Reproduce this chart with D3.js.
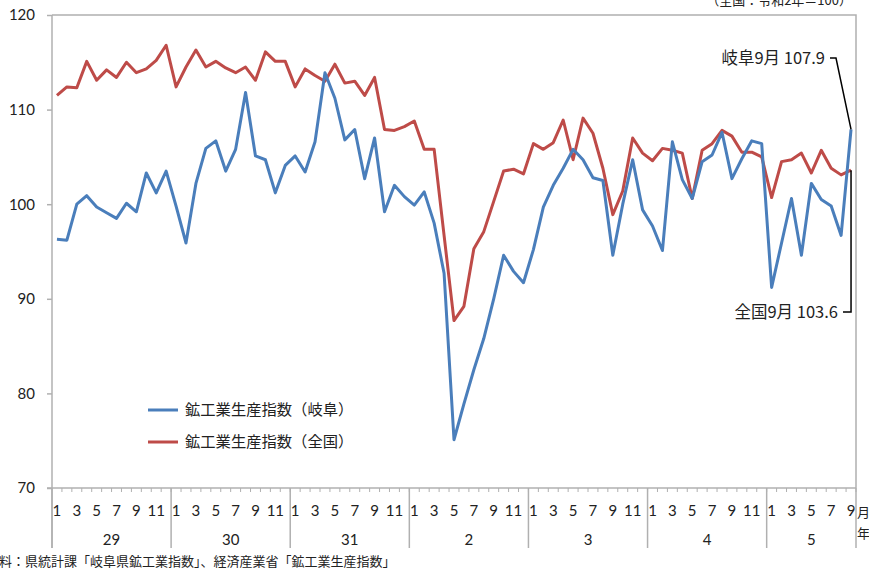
<!DOCTYPE html>
<html>
<head>
<meta charset="utf-8">
<script src="https://d3js.org/d3.v7.min.js"></script>
<style>
body { margin: 0; background: #fff; }
svg { display: block; }
text { font-family: Lato, "Noto Sans CJK JP", sans-serif; fill: #222; }
.jp { font-family: "Noto Sans CJK JP", sans-serif; }
</style>
</head>
<body>
<svg width="869" height="568"></svg>
<script>
// year groups on the category axis (Heisei 29-31, Reiwa 2-5)
var years = ["29", "30", "31", "2", "3", "4", "5"];
var monthsPerYear = [12, 12, 12, 12, 12, 12, 9];
var monthLabels = ["1", "", "3", "", "5", "", "7", "", "9", "", "11", ""];

// 鉱工業生産指数（岐阜）
var gifu = [
  96.3, 96.2, 100.0, 100.9, 99.7, 99.1, 98.5, 100.1, 99.2, 103.3, 101.2, 103.5,
  99.8, 95.9, 102.2, 105.9, 106.7, 103.5, 105.8, 111.8, 105.1, 104.7, 101.2, 104.1,
  105.1, 103.4, 106.6, 113.9, 111.2, 106.8, 107.9, 102.7, 107.0, 99.2, 102.0, 100.8,
  99.9, 101.3, 98.0, 92.7, 75.1, 78.9, 82.5, 85.8, 90.0, 94.6, 92.9, 91.7,
  95.2, 99.7, 102.0, 103.8, 105.8, 104.7, 102.8, 102.5, 94.6, 100.0, 104.7, 99.4,
  97.7, 95.1, 106.6, 102.6, 100.6, 104.5, 105.2, 107.6, 102.7, 104.8, 106.7, 106.4,
  91.2, 95.9, 100.6, 94.6, 102.2, 100.5, 99.8, 96.7, 107.9
];

// 鉱工業生産指数（全国）
var zenkoku = [
  111.5, 112.4, 112.3, 115.1, 113.1, 114.2, 113.4, 115.0, 113.9, 114.3, 115.2, 116.8,
  112.4, 114.5, 116.3, 114.5, 115.1, 114.4, 113.9, 114.5, 113.1, 116.1, 115.1, 115.1,
  112.4, 114.3, 113.6, 113.0, 114.8, 112.8, 113.0, 111.5, 113.4, 107.9, 107.8, 108.2,
  108.8, 105.8, 105.8, 96.7, 87.7, 89.2, 95.3, 97.1, 100.3, 103.5, 103.7, 103.2,
  106.4, 105.8, 106.5, 108.9, 104.7, 109.1, 107.5, 103.8, 98.9, 101.4, 107.0, 105.4,
  104.6, 105.9, 105.7, 105.4, 100.6, 105.7, 106.4, 107.8, 107.2, 105.5, 105.5, 105.0,
  100.7, 104.5, 104.7, 105.4, 103.3, 105.7, 103.8, 103.1, 103.6
];

var yTicks = [70, 80, 90, 100, 110, 120];

var categories = [];
years.forEach(function(yr, k) {
  for (var m = 0; m < monthsPerYear[k]; m++) {
    categories.push({ year: yr, month: m + 1, first: m == 0, key: yr + "-" + (m + 1) });
  }
});

var svg = d3.select("svg");
var plotLeft = 52, plotRight = 856, plotTop = 15, plotBottom = 488;
var axisColor = "#b0b0b0";
var blue = "#4a7ebb", red = "#be4b48";

var x = d3.scaleBand()
    .domain(categories.map(function(d) { return d.key; }))
    .range([plotLeft, plotRight])
    .paddingInner(0).paddingOuter(0);

var y = d3.scaleLinear().domain([70, 120]).range([plotBottom, plotTop]);

function cx(i) { return x(categories[i].key) + x.bandwidth() / 2; }

// frame: top and right border
svg.append("path")
    .attr("d", "M" + plotLeft + "," + plotTop + "H" + plotRight + "V" + plotBottom)
    .attr("fill", "none")
    .attr("stroke", axisColor)
    .attr("stroke-width", 1.5);

// y axis
var yAxis = svg.append("g")
    .attr("transform", "translate(" + plotLeft + ",0)")
    .call(d3.axisLeft(y).tickValues(yTicks).tickSize(5).tickPadding(12));
yAxis.select(".domain").remove();
yAxis.selectAll("line").attr("stroke", axisColor).attr("stroke-width", 1.5);
yAxis.selectAll("text").attr("font-size", 15).attr("font-family", "Lato, sans-serif").attr("fill", "#222");

// left axis line running down through the category labels
svg.append("line")
    .attr("x1", plotLeft).attr("x2", plotLeft)
    .attr("y1", plotTop).attr("y2", 548)
    .attr("stroke", axisColor).attr("stroke-width", 1.5);

// x axis baseline
svg.append("line")
    .attr("x1", plotLeft - 5).attr("x2", plotRight)
    .attr("y1", plotBottom).attr("y2", plotBottom)
    .attr("stroke", axisColor).attr("stroke-width", 1.5);

// month tick marks
svg.append("g").selectAll("line")
  .data(categories)
  .enter().append("line")
    .attr("x1", function(d) { return x(d.key) + x.bandwidth(); })
    .attr("x2", function(d) { return x(d.key) + x.bandwidth(); })
    .attr("y1", plotBottom)
    .attr("y2", plotBottom + 4)
    .attr("stroke", axisColor);

// year separators
var sep = categories.filter(function(d) { return d.first; }).map(function(d) { return x(d.key); });
sep.push(plotRight);
svg.append("g").selectAll("line")
  .data(sep)
  .enter().append("line")
    .attr("x1", function(d) { return d; })
    .attr("x2", function(d) { return d; })
    .attr("y1", plotBottom)
    .attr("y2", 548)
    .attr("stroke", axisColor)
    .attr("stroke-width", 1.5);

// month labels
svg.append("g").selectAll("text")
  .data(categories.filter(function(d) { return monthLabels[d.month - 1] != ""; }))
  .enter().append("text")
    .attr("x", function(d) { return x(d.key) + x.bandwidth() / 2; })
    .attr("y", 516)
    .attr("text-anchor", "middle")
    .attr("font-size", 15)
    .text(function(d) { return monthLabels[d.month - 1]; });

// year labels
var idx = 0;
var yearPos = years.map(function(yr, k) {
  var a = x(categories[idx].key);
  idx += monthsPerYear[k];
  var b = idx < categories.length ? x(categories[idx].key) : plotRight;
  return { year: yr, mid: (a + b) / 2 };
});
svg.append("g").selectAll("text")
  .data(yearPos)
  .enter().append("text")
    .attr("x", function(d) { return d.mid; })
    .attr("y", 545)
    .attr("text-anchor", "middle")
    .attr("font-size", 15)
    .text(function(d) { return d.year; });

svg.append("text").attr("class", "jp").attr("x", 857).attr("y", 517).attr("font-size", 13).text("月");
svg.append("text").attr("class", "jp").attr("x", 857).attr("y", 538).attr("font-size", 13).text("年");

// lines
var line = d3.line()
    .x(function(d, i) { return cx(i); })
    .y(function(d) { return y(d); });

svg.append("path")
    .datum(zenkoku)
    .attr("fill", "none")
    .attr("stroke", red)
    .attr("stroke-width", 3)
    .attr("stroke-linejoin", "round")
    .attr("d", line);

svg.append("path")
    .datum(gifu)
    .attr("fill", "none")
    .attr("stroke", blue)
    .attr("stroke-width", 3)
    .attr("stroke-linejoin", "round")
    .attr("d", line);

// legend
var legend = [
  { name: "鉱工業生産指数（岐阜）", color: blue, y: 410 },
  { name: "鉱工業生産指数（全国）", color: red, y: 442 }
];
var lg = svg.append("g").selectAll("g").data(legend).enter().append("g");
lg.append("line")
    .attr("x1", 148).attr("x2", 178)
    .attr("y1", function(d) { return d.y; }).attr("y2", function(d) { return d.y; })
    .attr("stroke", function(d) { return d.color; })
    .attr("stroke-width", 3);
lg.append("text")
    .attr("class", "jp")
    .attr("x", 185)
    .attr("y", function(d) { return d.y + 5; })
    .attr("font-size", 15.3)
    .text(function(d) { return d.name; });

// last value callouts
var last = gifu.length - 1;
svg.append("text").attr("class", "jp")
    .attr("x", 825).attr("y", 64)
    .attr("text-anchor", "end").attr("font-size", 16.5)
    .text("岐阜9月 " + gifu[last].toFixed(1));
svg.append("polyline")
    .attr("points", [[830, 58], [836, 58], [cx(last), y(gifu[last])]].join(" "))
    .attr("fill", "none").attr("stroke", "#000").attr("stroke-width", 1.5);

svg.append("text").attr("class", "jp")
    .attr("x", 838).attr("y", 318)
    .attr("text-anchor", "end").attr("font-size", 16.5)
    .text("全国9月 " + zenkoku[last].toFixed(1));
svg.append("polyline")
    .attr("points", [[843, 312], [cx(last), 312], [cx(last), y(zenkoku[last])]].join(" "))
    .attr("fill", "none").attr("stroke", "#000").attr("stroke-width", 1.5);

// notes
svg.append("text").attr("class", "jp")
    .attr("x", 852).attr("y", 5)
    .attr("text-anchor", "end").attr("font-size", 13)
    .text("（全国：令和2年＝100）");
svg.append("text").attr("class", "jp")
    .attr("x", -14).attr("y", 566)
    .attr("font-size", 13)
    .text("資料：県統計課「岐阜県鉱工業指数」、経済産業省「鉱工業生産指数」");
</script>
</body>
</html>
